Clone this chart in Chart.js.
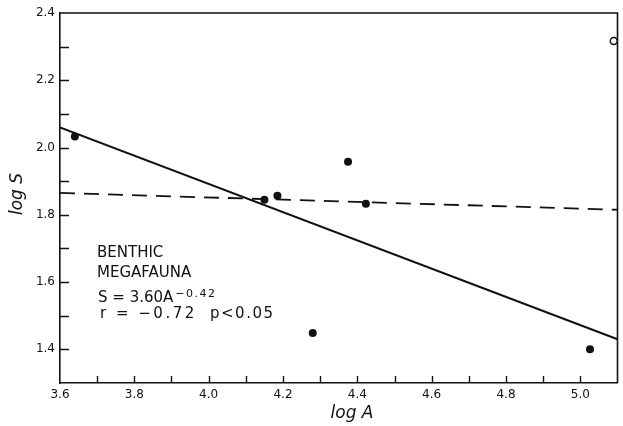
<!DOCTYPE html>
<html><head><meta charset="utf-8">
<script src="https://cdn.jsdelivr.net/npm/chart.js@4.4.1/dist/chart.umd.min.js"></script>
<style>html,body{margin:0;padding:0;background:#fff}#wrap{width:623px;height:426px;position:relative}</style>
</head><body><div id="wrap"><canvas id="c" width="623" height="426"></canvas></div>
<script>
// Observed sites (log A, log S)
const logA = [3.64, 4.15, 4.185, 4.375, 4.423, 4.28, 5.026];
const logS = [2.033, 1.845, 1.857, 1.958, 1.833, 1.449, 1.40];
// Excluded site (open circle)
const outlierA = [5.09];
const outlierS = [2.317];
// Fitted lines
const fitSolidA = [3.6, 5.1];
const fitSolidS = [2.06, 1.43];
const fitDashedA = [3.6, 5.1];
const fitDashedS = [1.865, 1.815];
// Tick labels
const xTickLabels = ['3.6','3.8','4.0','4.2','4.4','4.6','4.8','5.0'];
const yTickLabels = ['1.4','1.6','1.8','2.0','2.2','2.4'];
// Texts
const xTitle = 'log A';
const yTitle = 'log S';
const noteLines = ['BENTHIC', 'MEGAFAUNA'];
const eqMain = 'S = 3.60A';
const eqExp = '\u22120.42';
const statR = 'r = \u22120.72';
const statP = 'p<0.05';

const pts = (xs, ys) => xs.map((x, i) => ({x: x, y: ys[i]}));
const INK = '#111';

const decor = {
  id: 'decor',
  afterDraw(chart) {
    const ctx = chart.ctx;
    const a = chart.chartArea;
    const xs = chart.scales.x, ys = chart.scales.y;
    ctx.save();
    ctx.strokeStyle = INK;
    ctx.lineWidth = 1.6;
    // top and right frame
    ctx.beginPath();
    ctx.moveTo(a.left, a.top); ctx.lineTo(a.right, a.top); ctx.lineTo(a.right, a.bottom);
    ctx.stroke();
    // inward ticks
    ctx.lineWidth = 1.4;
    ctx.beginPath();
    xs.ticks.forEach(t => {
      const px = Math.round(xs.getPixelForValue(t.value)) + 0.5;
      if (px <= a.left + 2 || px >= a.right - 2) return;
      ctx.moveTo(px, a.bottom); ctx.lineTo(px, a.bottom - 7);
    });
    ys.ticks.forEach(t => {
      const py = Math.round(ys.getPixelForValue(t.value)) + 0.5;
      if (py >= a.bottom - 2 || py <= a.top + 2) return;
      ctx.moveTo(a.left, py); ctx.lineTo(a.left + 9, py);
    });
    ctx.stroke();

    ctx.fillStyle = INK;
    // axis titles
    ctx.font = 'italic 17px "DejaVu Sans"';
    ctx.textAlign = 'center';
    ctx.textBaseline = 'alphabetic';
    ctx.fillText(xTitle, 352, 418);
    ctx.save();
    ctx.translate(22, 194);
    ctx.rotate(-Math.PI / 2);
    ctx.fillText(yTitle, 0, 0);
    ctx.restore();

    // annotation
    ctx.textAlign = 'left';
    ctx.font = '15px "DejaVu Sans"';
    ctx.fillText(noteLines[0], 97, 257);
    ctx.fillText(noteLines[1], 97, 277);
    ctx.fillText(eqMain, 98, 301.5);
    const w = ctx.measureText(eqMain).width;
    ctx.font = '11px "DejaVu Sans"';
    if ('letterSpacing' in ctx) ctx.letterSpacing = '1.5px';
    ctx.fillText(eqExp, 98 + w + 2, 296.5);
    ctx.font = '15px "DejaVu Sans"';
    if ('letterSpacing' in ctx) ctx.letterSpacing = '2.5px';
    ctx.fillText(statR, 100, 318);
    if ('letterSpacing' in ctx) ctx.letterSpacing = '1.5px';
    ctx.fillText(statP, 210, 318);
    if ('letterSpacing' in ctx) ctx.letterSpacing = '0px';
    ctx.restore();
  }
};

const tickFont = {family: '"DejaVu Sans"', size: 12};

new Chart(document.getElementById('c'), {
  type: 'scatter',
  data: {
    datasets: [
      {label: 'fit', data: pts(fitSolidA, fitSolidS), showLine: true, pointRadius: 0,
       borderColor: INK, borderWidth: 2, fill: false},
      {label: 'fit2', data: pts(fitDashedA, fitDashedS), showLine: true, pointRadius: 0,
       borderColor: INK, borderWidth: 1.8, borderDash: [15, 9], fill: false},
      {label: 'sites', data: pts(logA, logS), pointRadius: 4, pointBackgroundColor: INK,
       pointBorderWidth: 0, borderColor: INK, clip: false},
      {label: 'excluded', data: pts(outlierA, outlierS), pointRadius: 3.5, pointBackgroundColor: '#fff',
       pointBorderColor: INK, pointBorderWidth: 1.5, clip: false}
    ]
  },
  options: {
    responsive: false,
    animation: false,
    devicePixelRatio: 1,
    layout: {padding: {top: 13, right: 2, left: 0, bottom: 0}},
    plugins: {legend: {display: false}, tooltip: {enabled: false}},
    scales: {
      x: {
        type: 'linear', min: 3.6, max: 5.1,
        ticks: {stepSize: 0.1, autoSkip: false, maxRotation: 0, padding: 5, color: INK, font: tickFont,
          callback: v => { const s = Number(v).toFixed(1); return xTickLabels.includes(s) ? s : ''; }},
        grid: {display: true, drawOnChartArea: false, drawTicks: false},
        border: {display: true, color: INK, width: 1.6},
        afterFit: s => { s.height = 43; }
      },
      y: {
        type: 'linear', min: 1.3, max: 2.4,
        ticks: {stepSize: 0.1, autoSkip: false, padding: 5, color: INK, font: tickFont,
          callback: v => { const s = Number(v).toFixed(1); return yTickLabels.includes(s) ? s : ''; }},
        grid: {display: true, drawOnChartArea: false, drawTicks: false},
        border: {display: true, color: INK, width: 1.6},
        afterFit: s => { s.width = 60; }
      }
    }
  },
  plugins: [decor]
});
</script>
</body></html>
